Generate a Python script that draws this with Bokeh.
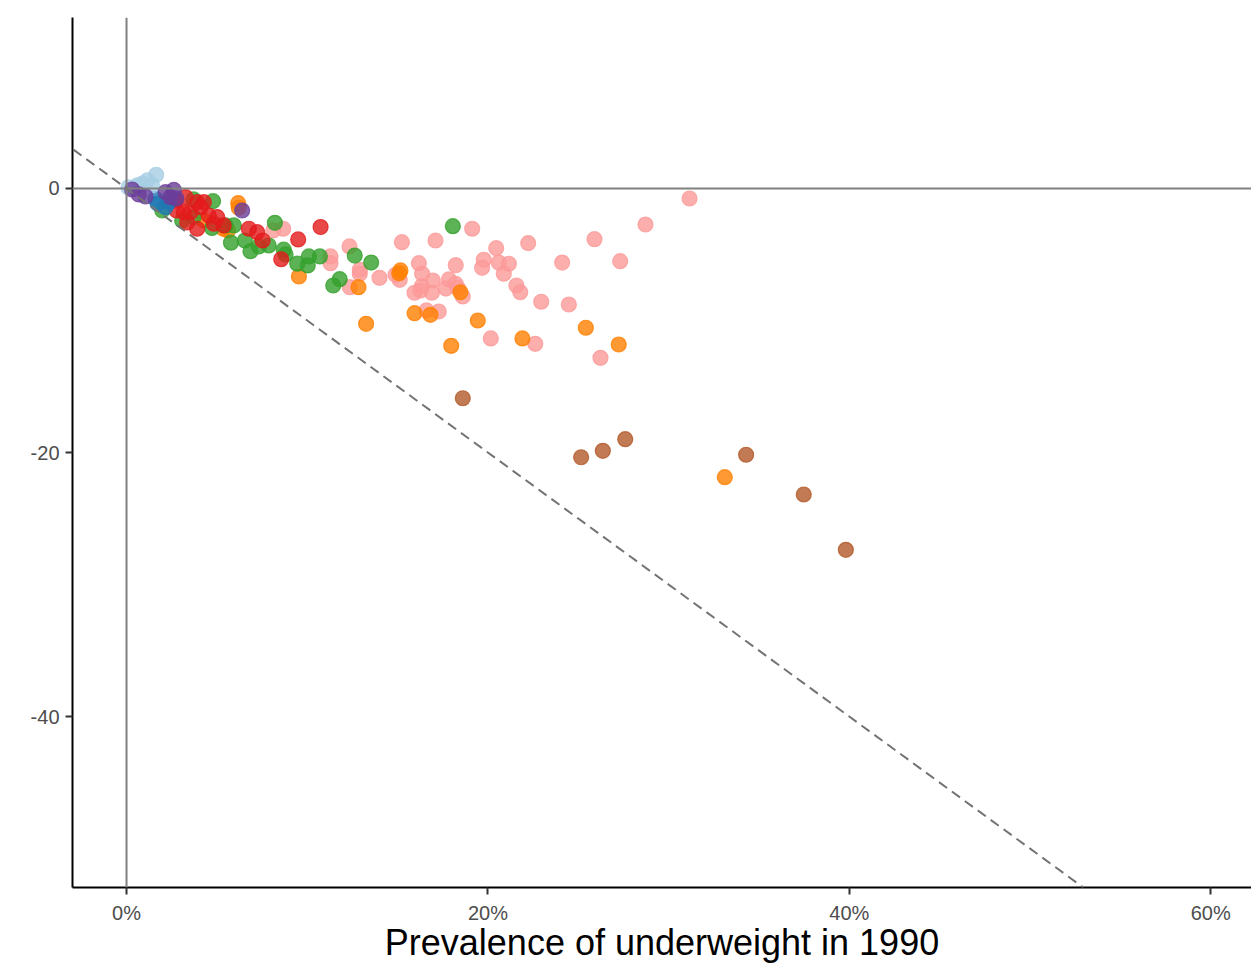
from bokeh.plotting import figure
from bokeh.models import Span, Slope, FixedTicker, PrintfTickFormatter
from bokeh.embed import file_html
from bokeh.resources import INLINE

# x: prevalence of underweight in 1990 (%), y: change (percentage points)
pink_x = [31.16, 28.72, 25.90, 27.32, 24.11, 24.48, 22.95, 22.62, 26.23, 20.16,
          19.13, 17.10, 15.24, 22.23, 20.46, 19.77, 19.68, 20.60, 21.16, 20.88,
          21.58, 21.79, 16.18, 16.36, 18.22, 16.95, 17.84, 18.21, 18.33, 18.61,
          16.34, 15.94, 16.90, 17.67, 16.27, 16.60, 17.28, 15.12, 14.89, 14.00,
          12.91, 12.91, 12.36, 12.34, 11.29, 11.29, 8.12, 8.67]
pink_y = [-0.76, -2.73, -3.84, -5.51, -5.61, -8.79, -8.58, -11.77, -12.83, -11.36,
          -3.05, -3.94, -4.07, -4.14, -4.52, -5.40, -6.01, -5.61, -5.70, -6.46,
          -7.35, -7.86, -5.66, -6.46, -5.81, -6.97, -6.89, -7.22, -7.52, -8.18,
          -7.40, -7.90, -7.90, -7.58, -7.73, -9.24, -9.32, -6.92, -6.54, -6.77,
          -6.16, -6.46, -7.48, -4.39, -5.15, -5.66, -3.18, -3.05]

brown_x = [18.61, 25.16, 26.36, 27.60, 34.29, 37.48, 39.81]
brown_y = [-15.89, -20.36, -19.87, -18.99, -20.17, -23.18, -27.37]

orange_x = [33.11, 27.24, 25.42, 21.91, 19.44, 17.97, 18.48, 16.82, 15.94, 15.16,
            15.09, 13.26, 12.84, 9.54, 6.18, 6.21, 5.61, 4.28, 5.36]
orange_y = [-21.87, -11.82, -10.55, -11.36, -10.00, -11.92, -7.86, -9.57, -9.45, -6.21,
            -6.42, -10.25, -7.48, -6.67, -1.11, -1.46, -3.18, -2.42, -3.05]

green_x = [18.06, 8.21, 4.79, 4.73, 5.94, 5.78, 6.55, 6.86, 7.32, 7.87,
           8.70, 8.80, 9.45, 10.09, 10.03, 10.70, 12.63, 13.54, 11.80, 11.44,
           1.98, 3.08, 3.72, 3.71, 5.48]
green_y = [-2.86, -2.60, -0.96, -2.99, -2.80, -4.11, -3.94, -4.75, -4.39, -4.32,
           -4.64, -5.00, -5.70, -5.15, -5.83, -5.15, -5.08, -5.61, -6.87, -7.35,
           -1.67, -2.42, -2.17, -0.83, -2.80]

red_x = [2.71, 3.27, 3.91, 4.28, 3.17, 3.54, 4.10, 4.55, 5.02, 4.83,
         5.38, 3.91, 3.36, 6.77, 7.23, 7.53, 8.56, 9.50, 10.74, 2.77]
red_y = [-0.91, -0.66, -1.04, -1.04, -1.80, -1.80, -1.42, -2.05, -2.17, -2.67,
         -2.80, -3.05, -2.58, -3.05, -3.31, -3.94, -5.36, -3.86, -2.92, -1.67]

blue_x = [1.60, 2.16, 2.34, 1.72]
blue_y = [-0.78, -1.42, -1.04, -1.14]

lightblue_x = [1.64, 1.15, 0.87, 0.59, 1.42, 0.11]
lightblue_y = [1.04, 0.61, 0.36, 0.23, 0.23, 0.08]

purple_x = [0.31, 0.68, 1.05, 2.16, 2.62, 2.43, 2.76, 6.40]
purple_y = [-0.08, -0.45, -0.61, -0.28, -0.11, -0.66, -0.76, -1.67]

x_ticks = [0, 20, 40, 60]
y_ticks = [-40, -20, 0]

groups = [
    (pink_x, pink_y, "#fb9a99"),
    (brown_x, brown_y, "#b15928"),
    (orange_x, orange_y, "#ff7f00"),
    (green_x, green_y, "#33a02c"),
    (red_x, red_y, "#e31a1c"),
    (blue_x, blue_y, "#1f78b4"),
    (lightblue_x, lightblue_y, "#a6cee3"),
    (purple_x, purple_y, "#6a3d9a"),
]

p = figure(width=1251, height=965, output_backend="svg", toolbar_location=None,
           x_range=(-2.99, 62.26), y_range=(-52.95, 12.95),
           min_border_left=72, min_border_right=0, min_border_top=17,
           min_border_bottom=78)
p.outline_line_color = None
p.xgrid.visible = False
p.ygrid.visible = False
p.background_fill_color = "white"

p.add_layout(Span(location=0, dimension="width", line_color="#808080", line_width=2))
p.add_layout(Span(location=0, dimension="height", line_color="#808080", line_width=2))
p.add_layout(Slope(gradient=-1, y_intercept=0, line_color="#737373", line_width=2,
                   line_dash="10 6"))

for xs, ys, c in groups:
    p.scatter(xs, ys, size=15, fill_color=c, line_color=c, fill_alpha=0.8,
              line_alpha=0.8, line_width=1.2)

for ax in (p.xaxis[0], p.yaxis[0]):
    ax.axis_line_color = "black"
    ax.axis_line_width = 2
    ax.major_tick_line_color = "#333333"
    ax.major_tick_line_width = 2
    ax.major_tick_out = 7
    ax.major_tick_in = 0
    ax.minor_tick_line_color = None
    ax.major_label_text_color = "#4d4d4d"
    ax.major_label_text_font = "Liberation Sans"
    ax.major_label_text_font_size = "20px"

p.xaxis.ticker = FixedTicker(ticks=x_ticks)
p.yaxis.ticker = FixedTicker(ticks=y_ticks)
p.xaxis.formatter = PrintfTickFormatter(format="%d%%")
p.yaxis.formatter = PrintfTickFormatter(format="%d")
p.xaxis.major_label_standoff = 7
p.yaxis.major_label_standoff = 6
p.xaxis.axis_label = "Prevalence of underweight in 1990"
p.xaxis.axis_label_text_font = "Liberation Sans"
p.xaxis.axis_label_text_font_style = "normal"
p.xaxis.axis_label_text_font_size = "36px"
p.xaxis.axis_label_text_color = "black"
p.xaxis.axis_label_standoff = -5

open("out.html", "w").write(file_html(p, INLINE))
